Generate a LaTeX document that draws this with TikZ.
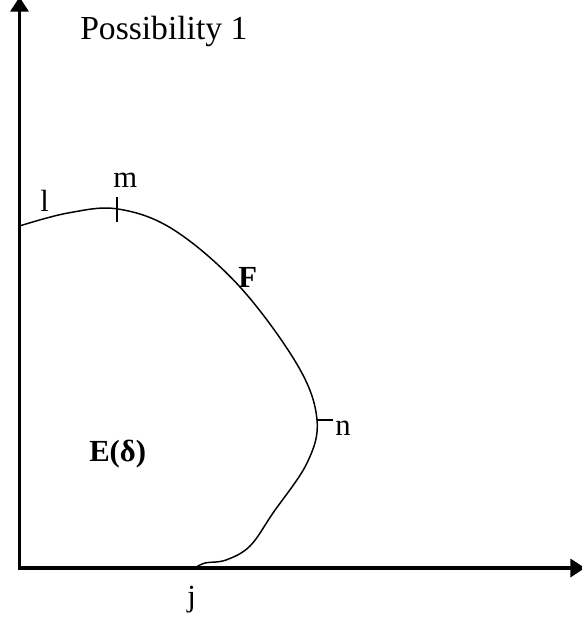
\documentclass[tikz,border=0pt]{standalone}
\usepackage{fontspec}
\setmainfont{Liberation Serif}
\usetikzlibrary{arrows.meta,positioning}

\begin{document}
\begin{tikzpicture}[x=0.75pt,y=-0.75pt,
    lbl/.style={inner sep=0pt,anchor=base west,font=\fontsize{23}{27}\selectfont},
    axis/.style={line width=2.6pt,{Triangle[length=11pt,width=13.5pt]}-{Triangle[length=11pt,width=13.5pt]}}]
        \useasboundingbox (0,0) rectangle (581,623);
        \coordinate (top) at (19.5,-3);
        \coordinate (O) at (19.5,568);
        \coordinate (right) at (585,568);
        \draw[axis] (top) -- (O) -- (right);
        \node[lbl,font=\fontsize{25.2}{30}\selectfont] (title) at (80,40) {Possibility 1};
        % boundary F of the region
        \draw[line width=1.1pt] plot[smooth,tension=0.6] coordinates {(19.5,226) (68,213) (118,209) (174,230) (240,287) (298,366) (317,420) (307,463) (273,513) (250,546) (226,560) (205,563) (195,568)};
        \coordinate (m) at (117,209);
        \coordinate (n) at (317,420);
        \draw[line width=1.1pt] ([yshift=9pt]m) -- ([yshift=-9.5pt]m);
        \draw[line width=1.1pt] (n) -- ++(16,0);
        \node[lbl] (l) at (40,212) {l};
        \node[lbl] (mlab) at (113,188) {m};
        \node[lbl] (nlab) at (335,435) {n};
        \node[lbl] (j) at (187,606) {j};
        \node[lbl] (F) at (238,287) {\textbf{F}};
        \node[lbl] (E) at (89,461) {\textbf{E(δ)}};
    \end{tikzpicture}
\end{document}
